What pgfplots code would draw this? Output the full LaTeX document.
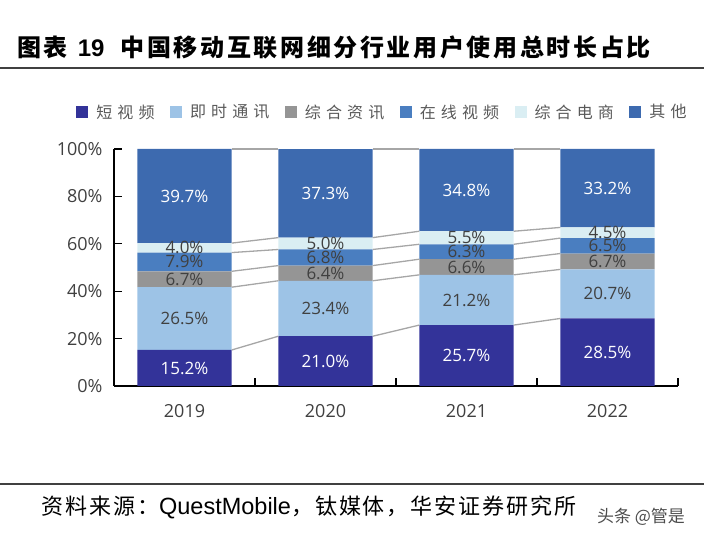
\documentclass[border=0pt]{standalone}
\usepackage{pgfplots}
\pgfplotsset{compat=1.18}
\usepackage{fontspec}
\setmainfont{Open Sans}
\newfontfamily\cjk{Noto Sans CJK SC}
\newfontfamily\cjkleg{Noto Sans CJK SC}[LetterSpace=32]
\newfontfamily\cjktitle{Noto Sans CJK SC}[LetterSpace=11]
\newfontfamily\cjksrc{Noto Sans CJK SC}[LetterSpace=9]
\newfontfamily\arial{Liberation Sans}
\definecolor{cShort}{HTML}{333399}
\definecolor{cIM}{HTML}{9DC3E6}
\definecolor{cNews}{HTML}{959595}
\definecolor{cVideo}{HTML}{4A7EC0}
\definecolor{cShop}{HTML}{DAEEF3}
\definecolor{cOther}{HTML}{3D6AAF}
\definecolor{lbl}{HTML}{404040}
\definecolor{legtxt}{HTML}{595959}
\definecolor{conn}{HTML}{A6A6A6}
\begin{document}
\begin{tikzpicture}[x=1pt,y=1pt]
\path[use as bounding box] (0,0) rectangle (704,541);
% title
\node[anchor=west, inner sep=0] at (17,494) {\fontsize{24}{24}\selectfont\cjktitle\bfseries 图表\hspace{10pt}{\arial\bfseries 19}\hspace{16pt}中国移动互联网细分行业用户使用总时长占比};
\draw[color=lbl, line width=1.5] (0,473) -- (704,473);
\draw[color=lbl, line width=1.5] (0,57) -- (704,57);
% source
\node[anchor=west, inner sep=0] at (41,34) {\fontsize{22}{22}\selectfont\cjksrc 资料来源：{\arial\fontsize{23.5}{23.5}\selectfont QuestMobile}，钛媒体，华安证券研究所};
\node[anchor=center, inner sep=0, text=black!70] at (641,24) {\fontsize{17}{17}\selectfont\cjk 头条 @管是};

\begin{axis}[
  at={(114pt,155pt)}, anchor=south west, scale only axis,
  width=564pt, height=237pt,
  xmin=-0.5, xmax=3.5, ymin=0, ymax=100,
  ybar stacked, bar width=0.67,
  axis lines*=left, axis line style={-, line width=1.3pt, black},
  tick align=inside, major tick length=8pt,
  tick style={black, line width=1.3pt},
  ytick={0,20,40,60,80,100},
  yticklabel={\pgfmathprintnumber{\tick}\%},
  yticklabel style={font=\fontsize{18}{18}\selectfont, text=lbl, xshift=-8pt},
  xtick={0.5,1.5,2.5,3.5}, xticklabels={},
  extra x ticks={0,1,2,3}, extra x tick labels={2019,2020,2021,2022},
  extra x tick style={major tick length=0pt, tick label style={font=\fontsize{18}{18}\selectfont, text=lbl, yshift=-15pt}},
  /pgf/number format/assume math mode=true,
  legend columns=6,
  legend cell align=left,
  legend image code/.code={\fill[#1, draw=none] (0pt,-6pt) rectangle (12pt,6pt); \path (18pt,0pt);},
  legend style={at={(0.476,1.156)}, anchor=center, draw=none, fill=none,
    font=\fontsize{16}{16}\selectfont\cjkleg, text=legtxt, inner sep=0pt,
    /tikz/every even column/.append style={column sep=13.5pt}},
]
\addplot[fill=cShort, draw=none] coordinates {(0,15.2) (1,21.0) (2,25.7) (3,28.5)};
\addplot[fill=cIM, draw=none] coordinates {(0,26.5) (1,23.4) (2,21.2) (3,20.7)};
\addplot[fill=cNews, draw=none] coordinates {(0,6.7) (1,6.4) (2,6.6) (3,6.7)};
\addplot[fill=cVideo, draw=none] coordinates {(0,7.9) (1,6.8) (2,6.3) (3,6.5)};
\addplot[fill=cShop, draw=none] coordinates {(0,4.0) (1,5.0) (2,5.5) (3,4.5)};
\addplot[fill=cOther, draw=none] coordinates {(0,39.7) (1,37.3) (2,34.8) (3,33.2)};
\legend{短视频,即时通讯,综合资讯,在线视频,综合电商,其他}
\end{axis}

\begin{axis}[
  at={(114pt,155pt)}, anchor=south west, scale only axis,
  width=564pt, height=237pt,
  xmin=-0.5, xmax=3.5, ymin=0, ymax=100,
  hide axis, clip=false, unbounded coords=jump,
]
% connector lines at cumulative boundaries
\addplot[conn, line width=1.3pt, mark=none] coordinates {(0.335,15.2) (0.665,21.0) (1,nan) (1.335,21.0) (1.665,25.7) (2,nan) (2.335,25.7) (2.665,28.5)};
\addplot[conn, line width=1.3pt, mark=none] coordinates {(0.335,41.7) (0.665,44.4) (1,nan) (1.335,44.4) (1.665,46.9) (2,nan) (2.335,46.9) (2.665,49.2)};
\addplot[conn, line width=1.3pt, mark=none] coordinates {(0.335,48.4) (0.665,50.8) (1,nan) (1.335,50.8) (1.665,53.5) (2,nan) (2.335,53.5) (2.665,55.9)};
\addplot[conn, line width=1.3pt, mark=none] coordinates {(0.335,56.3) (0.665,57.6) (1,nan) (1.335,57.6) (1.665,59.8) (2,nan) (2.335,59.8) (2.665,62.4)};
\addplot[conn, line width=1.3pt, mark=none] coordinates {(0.335,60.3) (0.665,62.6) (1,nan) (1.335,62.6) (1.665,65.3) (2,nan) (2.335,65.3) (2.665,66.9)};
\addplot[conn, line width=1.3pt, mark=none] coordinates {(0.335,100) (0.665,100) (1,nan) (1.335,100) (1.665,100) (2,nan) (2.335,100) (2.665,100)};
% value labels (white)
\addplot[draw=none, mark=none, nodes near coords, point meta=explicit symbolic,
  every node near coord/.append style={anchor=center, font=\fontsize{17}{17}\selectfont, text=white}]
  coordinates {(0,7.6)[15.2\%] (1,10.5)[21.0\%] (2,12.85)[25.7\%] (3,14.25)[28.5\%]
               (0,80.15)[39.7\%] (1,81.3)[37.3\%] (2,82.7)[34.8\%] (3,83.5)[33.2\%]};
% value labels (dark grey)
\addplot[draw=none, mark=none, nodes near coords, point meta=explicit symbolic,
  every node near coord/.append style={anchor=center, font=\fontsize{17}{17}\selectfont, text=lbl}]
  coordinates {(0,28.45)[26.5\%] (1,32.7)[23.4\%] (2,36.3)[21.2\%] (3,38.85)[20.7\%]
               (0,45.05)[6.7\%] (1,47.6)[6.4\%] (2,50.2)[6.6\%] (3,52.55)[6.7\%]
               (0,52.35)[7.9\%] (1,54.2)[6.8\%] (2,56.65)[6.3\%] (3,59.15)[6.5\%]
               (0,58.3)[4.0\%] (1,60.1)[5.0\%] (2,62.55)[5.5\%] (3,64.65)[4.5\%]};
\end{axis}
\end{tikzpicture}
\end{document}
